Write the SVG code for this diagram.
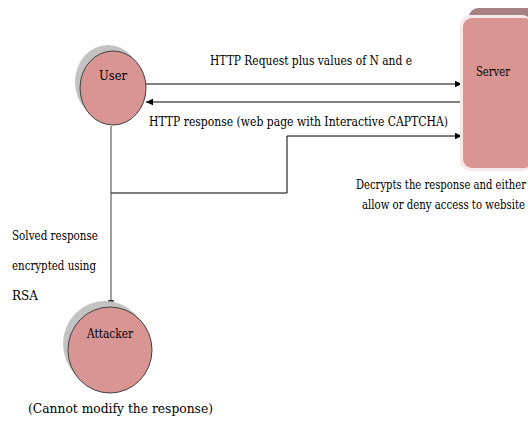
<svg xmlns="http://www.w3.org/2000/svg" width="528" height="430" viewBox="0 0 528 430">
<defs>
<marker id="ah" markerWidth="8" markerHeight="8" refX="7" refY="4" orient="auto" markerUnits="userSpaceOnUse">
<path d="M0,0.8 L7,4 L0,7.2 Z" fill="#000"/>
</marker>
<marker id="ahg" markerWidth="8" markerHeight="8" refX="7" refY="4" orient="auto" markerUnits="userSpaceOnUse">
<path d="M0,0.8 L7,4 L0,7.2 Z" fill="#404040"/>
</marker>
</defs>
<style>
.t{font-family:"DejaVu Serif",serif;font-size:13px;fill:#000}
.node{fill:#d99594;stroke:#404040;stroke-width:1}
.shadow{fill:#c3c3c3}
.ln{fill:none;stroke:#000;stroke-width:1}
</style>
<rect width="528" height="430" fill="#fff"/>
<g id="connectors">
<line class="ln" x1="146" y1="84" x2="462" y2="84" marker-end="url(#ah)"/>
<line class="ln" x1="462" y1="102" x2="146" y2="102" marker-end="url(#ah)"/>
<polyline class="ln" points="111,193 287,193 287,136 462,136" marker-end="url(#ah)"/>
<line x1="111" y1="126" x2="111" y2="307" stroke="#404040" stroke-width="1" marker-end="url(#ahg)"/>
</g>
<g id="user">
<ellipse class="shadow" cx="108" cy="82" rx="33" ry="37"/>
<ellipse class="node" cx="113" cy="88" rx="33" ry="37"/>
<text class="t" x="113" y="80" text-anchor="middle" textLength="28" lengthAdjust="spacingAndGlyphs">User</text>
</g>
<g id="server">
<rect x="469" y="8" width="70" height="152" rx="9" fill="#a88283"/>
<rect x="460" y="15" width="72" height="156" rx="10" fill="#f4eaea"/>
<rect x="463" y="18" width="70" height="150" rx="9" fill="#d99594"/>
<text class="t" x="476" y="76" textLength="34" lengthAdjust="spacingAndGlyphs">Server</text>
</g>
<g id="attacker">
<ellipse class="shadow" cx="105" cy="344" rx="42" ry="43"/>
<ellipse class="node" cx="110" cy="350" rx="42" ry="43"/>
<text class="t" x="110" y="338" text-anchor="middle" textLength="46" lengthAdjust="spacingAndGlyphs">Attacker</text>
</g>
<g id="labels">
<text class="t" x="210" y="65" textLength="202" lengthAdjust="spacingAndGlyphs">HTTP Request plus values of N and e</text>
<text class="t" x="149" y="126" textLength="299" lengthAdjust="spacingAndGlyphs">HTTP response (web page with Interactive CAPTCHA)</text>
<text class="t" x="356" y="189" textLength="170" lengthAdjust="spacingAndGlyphs">Decrypts the response and either</text>
<text class="t" x="362" y="209" textLength="163" lengthAdjust="spacingAndGlyphs">allow or deny access to website</text>
<text class="t" x="12" y="240" textLength="86" lengthAdjust="spacingAndGlyphs">Solved response</text>
<text class="t" x="12" y="270" textLength="84" lengthAdjust="spacingAndGlyphs">encrypted using</text>
<text class="t" x="12" y="300" textLength="26" lengthAdjust="spacingAndGlyphs">RSA</text>
<text class="t" x="28" y="413" textLength="185" lengthAdjust="spacingAndGlyphs">(Cannot modify the response)</text>
</g>
</svg>
